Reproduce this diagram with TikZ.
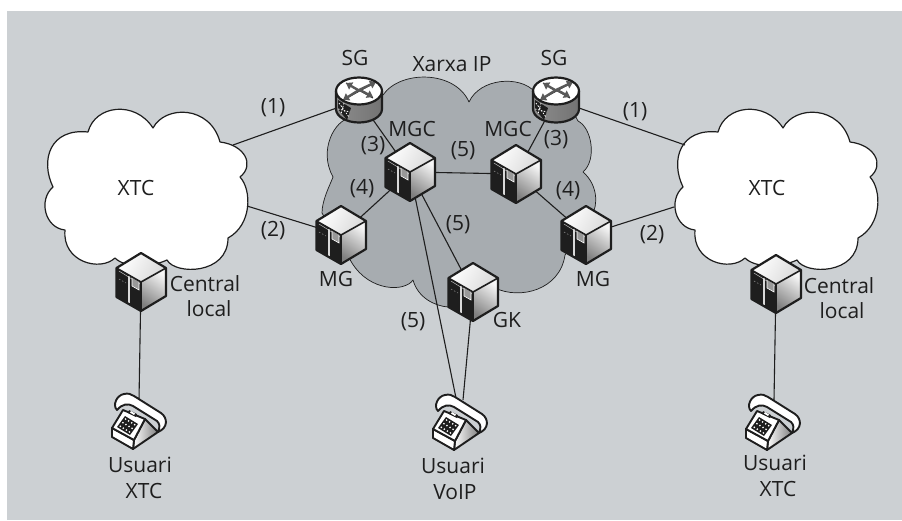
\documentclass[tikz,border=0pt]{standalone}
\usepackage{fontspec}
\usetikzlibrary{arrows.meta}
\setmainfont{Open Sans}
\definecolor{panel}{HTML}{CCD0D3}
\definecolor{netgray}{HTML}{A7ACB0}
\definecolor{ink}{HTML}{1E1E1E}
\tikzset{
  lab/.style={font=\fontsize{21}{25.5}\selectfont,text=ink,inner sep=0pt,align=center},
  link/.style={draw=ink,line width=1.1pt},
  iconbox/.style={inner sep=0pt,minimum width=50pt,minimum height=56pt},
  cloudline/.style={draw=ink,line width=1.2pt,line join=round},
  rarrow/.style={white!35!black,line width=2.4pt,-{Triangle[length=6pt,width=8pt]}},
  server/.pic={
    \coordinate (T) at (0,-29); \coordinate (UL) at (-24.5,-14); \coordinate (LL) at (-24.5,15);
    \coordinate (B) at (0,29); \coordinate (LR) at (25,14); \coordinate (UR) at (25,-14); \coordinate (C) at (0,0);
    \fill[ink] (UL)--(C)--(B)--(LL)--cycle;
    \shade[top color=white,bottom color=white!85!black,shading angle=60] (T)--(UR)--(C)--(UL)--cycle;
    \shade[top color=white!97!black,bottom color=white!50!black,shading angle=-35] (C)--(UR)--(LR)--(B)--cycle;
    \draw[white!70!black,line width=.6pt] (-22,-11)--(-1,2);
    \draw[white!85!black,line width=1.2pt] (-12,-6)--(-12,21);
    \draw[white!60!black,line width=.5pt,dash pattern=on 1.5pt off 2pt] (-22,-3)--(-15,1);
    \draw[white,line width=.6pt,fill=white!60!black] (-9,-5)--(-2,-1)--(-2,8)--(-9,4)--cycle;
    \draw[ink,line width=2.2pt,line join=round] (T)--(UR)--(LR)--(B)--(LL)--(UL)--cycle;
    \draw[ink,line width=1.6pt,line join=round] (UL)--(C)--(UR) (C)--(B);
  },
  router/.pic={
    \shade[left color=white!55!black,middle color=white,right color=white!45!black]
      (-23,-9) -- (-23,9) .. controls (-23,16.5) and (-12.7,22.5) .. (0,22.5)
      .. controls (12.7,22.5) and (23,16.5) .. (23,9) -- (23,-9) -- cycle;
    \fill[white] (0,-9) ellipse[x radius=23,y radius=13.5];
    \fill[ink] (-21,0) -- (-21,9) -- (-12,20) -- (-8,8) -- cycle;
    \draw[white,line width=.8pt,dash pattern=on 1.5pt off 1.5pt] (-20,3)--(-10,17) (-15,3)--(-18,14) (-21,9)--(-9,12);
    \draw[ink,line width=1pt] (-13,-17)--(14,-2) (-16,0)--(17,-18);
    \draw[rarrow] (0,-10)--(17,-18);
    \draw[rarrow] (0,-10)--(-16,0);
    \draw[rarrow] (-1,-10)--(-13,-17);
    \draw[rarrow] (1,-10)--(14,-3);
    \draw[ink,line width=2.2pt,line join=round] (-23,-9) -- (-23,9) .. controls (-23,16.5) and (-12.7,22.5) .. (0,22.5)
      .. controls (12.7,22.5) and (23,16.5) .. (23,9) -- (23,-9);
    \draw[ink,line width=2.2pt] (0,-9) ellipse[x radius=23,y radius=13.5];
  },
  phone/.pic={
    \shade[left color=white,right color=white!50!black,line width=1.9pt,draw=ink,line join=round]
      (6,-2)--(19,11)--(-6,28)--(-5,19)--cycle;
    \draw[ink,fill=white,line width=1.9pt,line join=round] (-27,7)--(-5,19)--(-6,28)--(-27,16)--cycle;
    \draw[ink,fill=white,line width=1.9pt,line join=round] (-16,-11)--(6,-2)--(-5,19)--(-27,7)--cycle;
    \fill[ink] (-14,-5)--(-1,3)--(-9,14)--(-22,6)--cycle;
    \foreach \u in {0.15,0.38,0.62,0.85}{\foreach \v in {0.17,0.5,0.83}{
      \fill[white] ({-14+13*\u-8*\v},{-5+8*\u+11*\v}) circle[radius=.95];}}
    \draw[ink,fill=white,line width=1.9pt,line join=round]
      (-22,-11) .. controls (-27,-16) and (-22,-26) .. (-15,-27)
      .. controls (-11,-28) and (-8,-27) .. (-5,-25) -- (22,-8)
      .. controls (29,-3) and (29,7) .. (19,11)
      .. controls (21,6) and (21,3) .. (18,0) -- (-6,-15)
      .. controls (-11,-18) and (-17,-17) .. (-22,-11) -- cycle;
    \fill[ink] (-10,-11)--(-2,-7)--(-3,-4)--(-11,-8)--cycle;
    \fill[white] (-8,-10)--(-4,-7.5)--(-5,-6)--(-9,-8.5)--cycle;
  }
}
\newcommand{\cloudpath}{
  (88,132) .. controls (95,105) and (135,100) .. (153,128)
  .. controls (165,105) and (210,105) .. (220,142)
  .. controls (245,145) and (255,165) .. (240,177)
  .. controls (252,190) and (252,225) .. (228,238)
  .. controls (228,275) and (175,275) .. (167,260)
  .. controls (150,268) and (125,268) .. (115,258)
  .. controls (100,272) and (62,262) .. (65,230)
  .. controls (45,228) and (38,200) .. (53,187)
  .. controls (40,160) and (50,128) .. (88,132) -- cycle}
\begin{document}
\begin{tikzpicture}[x=1pt,y=-1pt]
\useasboundingbox (0,0) rectangle (902,520);
\fill[panel] (7,11) rectangle (902,520);
% IP network cloud
\draw[fill=netgray,draw=ink,line width=.7pt,line join=round]
  (383,95) .. controls (400,70) and (455,70) .. (469,102)
  .. controls (480,78) and (520,75) .. (535,92)
  .. controls (555,90) and (570,105) .. (578,121)
  .. controls (592,128) and (597,160) .. (583,172)
  .. controls (598,185) and (598,205) .. (592,215)
  -- (565,255)
  .. controls (560,290) and (520,300) .. (495,288)
  -- (448,307)
  .. controls (435,306) and (418,298) .. (413,280)
  .. controls (405,292) and (370,292) .. (352,263)
  -- (322,213)
  .. controls (322,200) and (330,185) .. (333,177)
  .. controls (318,150) and (335,120) .. (350,118)
  -- cycle;
% PSTN clouds
\draw[cloudline,fill=white] \cloudpath;
\begin{scope}[xshift=630pt]
\draw[cloudline,fill=white] \cloudpath;
\end{scope}
% icon anchors
\node[iconbox] (sg1) at (359,100) {};
\node[iconbox] (sg2) at (556,100) {};
\node[iconbox] (mgc1) at (410,172) {};
\node[iconbox] (mgc2) at (516,174) {};
\node[iconbox] (mg1) at (341,235) {};
\node[iconbox] (mg2) at (586,235) {};
\node[iconbox] (gk) at (473,292) {};
\node[iconbox] (cl1) at (141,282) {};
\node[iconbox] (cl2) at (776,284) {};
\node[iconbox] (ph1) at (139,421) {};
\node[iconbox] (ph2) at (460,422) {};
\node[iconbox] (ph3) at (773,422) {};
\coordinate (xtc1a) at (233,145);
\coordinate (xtc1b) at (247,206);
\coordinate (xtc2a) at (685,145);
\coordinate (xtc2b) at (674,207);
\coordinate (ph1top) at (139,400);
\coordinate (ph2a) at (456,398);
\coordinate (ph2b) at (463,400);
\coordinate (ph3top) at (774,400);
% connectors
\draw[link] (xtc1a) -- (sg1.center);
\draw[link] (xtc1b) -- (mg1.center);
\draw[link] (xtc2a) -- (sg2.center);
\draw[link] (xtc2b) -- (mg2.center);
\draw[link] (sg1.center) -- (mgc1.center);
\draw[link] (sg2.center) -- (mgc2.center);
\draw[link] (mg1.center) -- (mgc1.center);
\draw[link] (mg2.center) -- (mgc2.center);
\draw[link] (mgc1.center) -- (mgc2.center);
\draw[link] (mgc1.center) -- (gk.center);
\draw[link] (mgc1.center) -- (ph2a);
\draw[link] (gk.center) -- (ph2b);
\draw[link] (cl1.center) -- (ph1top);
\draw[link] (cl2.center) -- (ph3top);
% icons
\pic at (sg1) {router};
\pic at (sg2) {router};
\foreach \n in {mgc1,mgc2,mg1,mg2,gk,cl1,cl2}{\pic at (\n) {server};}
\foreach \n in {ph1,ph2,ph3}{\pic at (\n) {phone};}
% labels
\node[lab] (tsg1) at (355,58) {SG};
\node[lab] (tsg2) at (554,58) {SG};
\node[lab] (txip) at (452,64) {Xarxa IP};
\node[lab] (tmgc1) at (412,129) {MGC};
\node[lab] (tmgc2) at (508,129) {MGC};
\node[lab] (t31) at (373,146) {(3)};
\node[lab] (t32) at (556,140) {(3)};
\node[lab] (t41) at (362,189) {(4)};
\node[lab] (t42) at (568,191) {(4)};
\node[lab] (t51) at (463,151) {(5)};
\node[lab] (t52) at (458,225) {(5)};
\node[lab] (t53) at (413,322) {(5)};
\node[lab] (tmg1) at (336,279) {MG};
\node[lab] (tmg2) at (593,279) {MG};
\node[lab] (tgk) at (507,320) {GK};
\node[lab] (t11) at (273,108) {(1)};
\node[lab] (t21) at (273,231) {(2)};
\node[lab] (t12) at (635,112) {(1)};
\node[lab] (t22) at (652,235) {(2)};
\node[lab] (tx1) at (136,188) {XTC};
\node[lab] (tx2) at (767,188) {XTC};
\node[lab] (tc1) at (205,296) {Central\\\hspace*{8pt}local};
\node[lab] (tc2) at (839,298) {Central\\\hspace*{6pt}local};
\node[lab] (tu1) at (140,478) {Usuari\\\hspace*{8pt}XTC};
\node[lab] (tu2) at (453,479) {Usuari\\\hspace*{4pt}VoIP};
\node[lab] (tu3) at (775,476) {Usuari\\\hspace*{6pt}XTC};
\end{tikzpicture}
\end{document}
